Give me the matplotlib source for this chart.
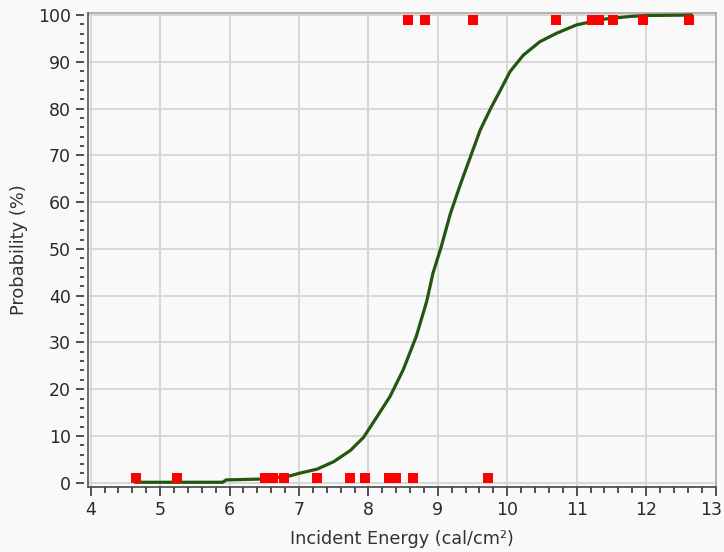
import matplotlib
matplotlib.use("Agg")
import matplotlib.pyplot as plt
from matplotlib.ticker import MultipleLocator
from matplotlib.transforms import ScaledTranslation

# Fitted probability curve
curve_x = [4.65, 5.90, 5.95, 6.50, 6.88, 7.00, 7.26, 7.50, 7.74, 7.93, 8.11, 8.31,
           8.50, 8.69, 8.84, 8.93, 9.05, 9.18, 9.33, 9.47, 9.61, 9.76, 9.90,
           10.04, 10.23, 10.47, 10.71, 11.00, 11.38, 11.77, 12.00, 12.65]
curve_y = [0.1, 0.1, 0.6, 0.8, 1.5, 2.0, 2.9, 4.5, 6.9, 9.7, 13.8, 18.4,
           24.1, 31.3, 38.8, 44.8, 50.5, 57.5, 64.0, 69.7, 75.4, 80.0, 83.9,
           87.9, 91.4, 94.3, 96.1, 97.9, 99.1, 99.7, 99.9, 100.0]

# Observed outcomes
no_x = [4.65, 5.24, 6.51, 6.62, 6.78, 7.26, 7.74, 7.95, 8.30, 8.40, 8.64, 9.72]
no_y = [1] * len(no_x)
yes_x = [8.57, 8.81, 9.50, 10.70, 11.22, 11.32, 11.53, 11.95, 12.62]
yes_y = [99] * len(yes_x)

xticks = list(range(4, 14))
yticks = list(range(0, 101, 10))

plt.rcParams['font.family'] = ['DejaVu Sans']

fig = plt.figure(figsize=(7.24, 5.52), dpi=100)
bg = '#f9f9f9'
fig.patch.set_facecolor(bg)
W, H = 724, 552
left, right, top, bottom = 88.3, 715.5, 12.7, 486.7
ax = fig.add_axes([left / W, 1 - bottom / H, (right - left) / W, (bottom - top) / H])
ax.set_facecolor(bg)

ax.set_xlim(3.965, 13.0)
ax.set_ylim(-0.85, 100.5)

ax.set_xticks(xticks)
ax.set_yticks(yticks)
ax.xaxis.set_minor_locator(MultipleLocator(0.2))
ax.yaxis.set_minor_locator(MultipleLocator(2))

ax.grid(True, which='major', color='#d8d8d8', linewidth=1.4)
ax.set_axisbelow(True)

ax.plot(curve_x, curve_y, color='#24560f', linewidth=2.3, zorder=3)
ax.plot(no_x, no_y, linestyle='none', marker='s', markersize=6.5,
        color='#ff0000', markeredgewidth=0, zorder=4)
ax.plot(yes_x, yes_y, linestyle='none', marker='s', markersize=6.5,
        color='#ff0000', markeredgewidth=0, zorder=4)

# left spine detached slightly from its ticks, as in the reference
ax.spines['left'].set_position(('outward', 3))
ax.spines['left'].set_color('none')
ax.plot([0, 0], [0, 1], transform=ax.transAxes, color='#555555',
        linewidth=1.2, clip_on=False, zorder=5)
ax.spines['bottom'].set_color('#444444')
ax.spines['bottom'].set_linewidth(1.2)
for s in ['top', 'right']:
    ax.spines[s].set_color('#a8a8a8')
    ax.spines[s].set_linewidth(1.2)

ax.tick_params(axis='both', which='major', length=6, width=1.2, color='#333333',
               labelsize=12.5, labelcolor='#2a2a2a', pad=3.5)
ax.tick_params(axis='both', which='minor', length=3, width=1.2, color='#333333')
ax.tick_params(axis='x', which='major', length=6.5, pad=4)
ax.tick_params(axis='x', which='minor', length=4.5)

# keep the last x tick label inside the figure, as in the reference
last = ax.xaxis.get_major_ticks()[-1].label1
last.set_transform(last.get_transform() + ScaledTranslation(-0.045, 0, fig.dpi_scale_trans))

ax.set_xlabel('Incident Energy (cal/cm²)', fontsize=12.7, color='#333333', labelpad=8)
ax.set_ylabel('Probability (%)', fontsize=12.9, color='#333333', labelpad=7)

fig.savefig('out.png', dpi=100, facecolor=bg)
